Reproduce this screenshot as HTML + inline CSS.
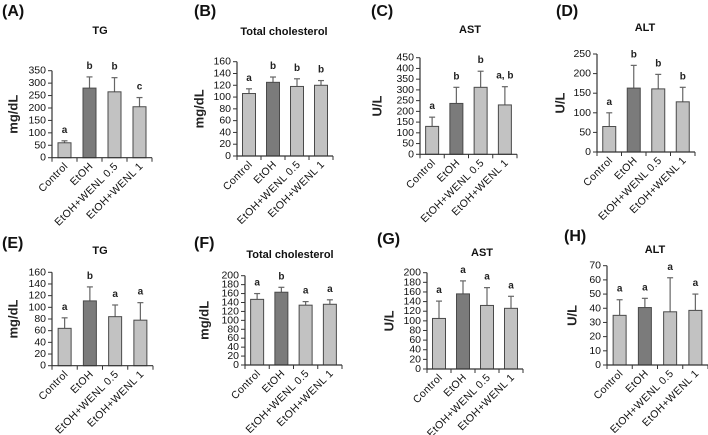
<!DOCTYPE html>
<html><head><meta charset="utf-8"><style>
html,body{margin:0;padding:0;background:#fff;width:708px;height:435px;overflow:hidden}
svg{display:block;font-family:"Liberation Sans",sans-serif}
</style></head><body>
<svg id="fig" width="708" height="435" viewBox="0 0 708 435" xmlns="http://www.w3.org/2000/svg"></svg>
<script>
const categories = ["Control","EtOH","EtOH+WENL 0.5","EtOH+WENL 1"];
const valuesA = [60,280,265,205];   const errA = [8,45,57,37];   const lettersA = ["a","b","b","c"];
const valuesB = [106,125,118,120];  const errB = [8,9,13,8];     const lettersB = ["a","b","b","b"];
const valuesC = [130,237,312,230];  const errC = [43,75,75,85];  const lettersC = ["a","b","b","a, b"];
const valuesD = [65,163,161,128];   const errD = [35,58,37,37];  const lettersD = ["a","b","b","b"];
const valuesE = [64,111,84,78];     const errE = [18,24,20,30];  const lettersE = ["a","b","a","a"];
const valuesF = [147,163,134,136];  const errF = [13,11,8,10];   const lettersF = ["a","b","a","a"];
const valuesG = [105,156,132,126];  const errG = [36,27,37,25];  const lettersG = ["a","a","a","a"];
const valuesH = [35,40.5,37.5,38.5];const errH = [11,6.5,24,11.5];const lettersH = ["a","a","a","a"];
const ticksA = [0,50,100,150,200,250,300,350];
const ticksB = [0,20,40,60,80,100,120,140,160];
const ticksC = [0,50,100,150,200,250,300,350,400,450];
const ticksD = [0,50,100,150,200,250];
const ticksE = [0,20,40,60,80,100,120,140,160];
const ticksF = [0,20,40,60,80,100,120,140,160,180,200];
const ticksG = [0,20,40,60,80,100,120,140,160,180,200];
const ticksH = [0,10,20,30,40,50,60,70];

const NS="http://www.w3.org/2000/svg";
const svg=document.getElementById('fig');
function mk(tag,attrs,parent,text){
  const e=document.createElementNS(NS,tag);
  for(const k in attrs)e.setAttribute(k,attrs[k]);
  if(text!==undefined)e.textContent=text;
  (parent||svg).appendChild(e);return e;
}
const panels=[
 {id:"a",lab:"(A)",lx:2,ly:16,title:"TG",tx:100,ty:34,unit:"mg/dL",ux:13,x0:52,x1:152,yT:70.7,yB:157.7,v:valuesA,e:errA,l:lettersA,t:ticksA},
 {id:"b",lab:"(B)",lx:194,ly:16,title:"Total cholesterol",tx:284,ty:35,unit:"mg/dL",ux:199,x0:237,x1:333,yT:61.7,yB:156,v:valuesB,e:errB,l:lettersB,t:ticksB},
 {id:"c",lab:"(C)",lx:371,ly:16,title:"AST",tx:470,ty:33,unit:"U/L",ux:377,x0:420,x1:517,yT:57.7,yB:154.3,v:valuesC,e:errC,l:lettersC,t:ticksC},
 {id:"d",lab:"(D)",lx:556,ly:16,title:"ALT",tx:645,ty:31,unit:"U/L",ux:560,x0:597,x1:695,yT:54,yB:152,v:valuesD,e:errD,l:lettersD,t:ticksD},
 {id:"e",lab:"(E)",lx:2,ly:248,title:"TG",tx:100,ty:254,unit:"mg/dL",ux:13,x0:52,x1:153,yT:272.3,yB:365.7,v:valuesE,e:errE,l:lettersE,t:ticksE},
 {id:"f",lab:"(F)",lx:194,ly:248,title:"Total cholesterol",tx:290,ty:258,unit:"mg/dL",ux:204,x0:245,x1:342,yT:275.7,yB:365,v:valuesF,e:errF,l:lettersF,t:ticksF},
 {id:"g",lab:"(G)",lx:377,ly:244,title:"AST",tx:482,ty:256,unit:"U/L",ux:389,x0:427,x1:523,yT:272.7,yB:369,v:valuesG,e:errG,l:lettersG,t:ticksG},
 {id:"h",lab:"(H)",lx:564,ly:241,title:"ALT",tx:655,ty:253,unit:"U/L",ux:572,x0:607,x1:708,yT:265.7,yB:365,v:valuesH,e:errH,l:lettersH,t:ticksH}
];
panels.forEach(p=>{
  const g=mk('g',{});
  
  
  const max=p.t[p.t.length-1];
  const y=v=>p.yB-(v/max)*(p.yB-p.yT);
  const bw=(p.x1-p.x0)/categories.length;
  const cx=i=>p.x0+bw*(i+0.5);
  const pl=mk('text',{x:p.lx,y:p.ly,'font-size':16,'font-weight':'bold',fill:'#111'},g,p.lab);
  
  
  const tt=mk('text',{x:p.tx,y:p.ty,'font-size':11,'font-weight':'bold','text-anchor':'middle',fill:'#111'},g,p.title);
  
  
  const ym=(p.yT+p.yB)/2;
  const ul=mk('text',{x:p.ux,y:ym,'font-size':13,'font-weight':'bold','text-anchor':'middle',transform:`rotate(-90 ${p.ux} ${ym})`,'dominant-baseline':'central',fill:'#222'},g,p.unit);
  
  
  p.v.forEach((v,i)=>{
    const w=13, x=cx(i)-w/2;
    const eb=mk('line',{x1:cx(i),x2:cx(i),y1:y(v),y2:y(v+p.e[i]),stroke:'#666','stroke-width':1.2},g);
    
    
    const cap=mk('line',{x1:cx(i)-3,x2:cx(i)+3,y1:y(v+p.e[i]),y2:y(v+p.e[i]),stroke:'#666','stroke-width':1.2},g);
    
    
    const r=mk('rect',{x:x,y:y(v),width:w,height:p.yB-y(v),fill:i===1?'#7b7b7b':'#c2c2c2',stroke:'#4a4a4a','stroke-width':1},g);
    
    
    const lt=mk('text',{x:cx(i),y:y(v+p.e[i])-8,'font-size':10,'font-weight':'bold','text-anchor':'middle',fill:'#222'},g,p.l[i]);
    
    
    const lx=cx(i)+4, ly=p.yB+9;
    const cl=mk('text',{x:lx,y:ly,'font-size':10.5,'letter-spacing':0.4,'text-anchor':'end',fill:'#111',transform:`rotate(-45 ${lx} ${ly})`},g,categories[i]);
    
    
  });
  const ya=mk('line',{x1:p.x0,x2:p.x0,y1:p.yT,y2:p.yB,stroke:'#333','stroke-width':1.2},g);
  
  
  const xa=mk('line',{x1:p.x0,x2:p.x1,y1:p.yB,y2:p.yB,stroke:'#333','stroke-width':1.2},g);
  
  
  for(let i=0;i<=categories.length;i++){
    const xt=p.x0+bw*i;
    const tk=mk('line',{x1:xt,x2:xt,y1:p.yB,y2:p.yB+4,stroke:'#333','stroke-width':1},g);
    
    
  }
  p.t.forEach(t=>{
    const tk=mk('line',{x1:p.x0-4,x2:p.x0,y1:y(t),y2:y(t),stroke:'#333','stroke-width':1},g);
    
    
    const tl=mk('text',{x:p.x0-6,y:y(t),'font-size':10.5,'text-anchor':'end','dominant-baseline':'central',fill:'#111'},g,String(t));
    
    
  });
});
</script>
</body></html>
